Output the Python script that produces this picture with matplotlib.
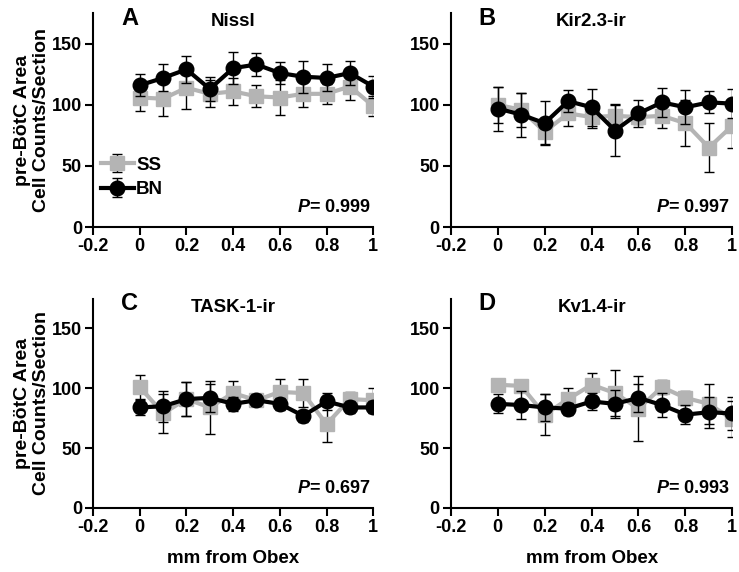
import matplotlib
matplotlib.use("Agg")
import matplotlib.pyplot as plt

plt.rcParams['font.family'] = ['Liberation Sans', 'DejaVu Sans']
plt.rcParams['font.weight'] = 'bold'
plt.rcParams['mathtext.fontset'] = 'custom'
plt.rcParams['mathtext.it'] = 'Liberation Sans:italic:bold'
plt.rcParams['mathtext.rm'] = 'Liberation Sans:bold'

x_mm = [0, 0.1, 0.2, 0.3, 0.4, 0.5, 0.6, 0.7, 0.8, 0.9, 1.0]
x_ticks = [-0.2, 0, 0.2, 0.4, 0.6, 0.8, 1]
x_tick_labels = ['-0.2', '0', '0.2', '0.4', '0.6', '0.8', '1']
y_ticks = [0, 50, 100, 150]

titles = ['Nissl', 'Kir2.3-ir', 'TASK-1-ir', 'Kv1.4-ir']
letters = ['A', 'B', 'C', 'D']
p_values = ['0.999', '0.997', '0.697', '0.993']

# Nissl
ss_a = [106, 105, 114, 109, 111, 107, 106, 109, 109, 115, 99]
ss_a_err = [11, 14, 17, 11, 11, 9, 14, 11, 8, 11, 8]
bn_a = [116, 122, 129, 113, 130, 133, 126, 123, 122, 126, 115]
bn_a_err = [9, 11, 11, 10, 13, 9, 9, 13, 11, 10, 9]

# Kir2.3
ss_b = [100, 96, 78, 93, 90, 91, 90, 91, 85, 65, 83]
ss_b_err = [15, 14, 10, 10, 9, 10, 6, 10, 19, 20, 18]
bn_b = [97, 92, 85, 103, 98, 79, 93, 102, 98, 102, 101]
bn_b_err = [18, 18, 18, 9, 15, 21, 11, 12, 14, 9, 12]

# TASK-1
ss_c = [101, 79, 91, 84, 96, 90, 97, 96, 70, 91, 90]
ss_c_err = [10, 16, 14, 22, 10, 5, 11, 12, 15, 6, 10]
bn_c = [84, 85, 91, 92, 87, 90, 87, 77, 89, 84, 84]
bn_c_err = [6, 13, 14, 12, 6, 5, 5, 5, 7, 5, 5]

# Kv1.4
ss_d = [103, 102, 78, 91, 103, 96, 83, 101, 92, 87, 74]
ss_d_err = [5, 5, 17, 9, 10, 19, 27, 6, 6, 17, 15]
bn_d = [87, 86, 84, 83, 89, 87, 92, 86, 78, 80, 79]
bn_d_err = [8, 12, 11, 5, 7, 12, 12, 10, 8, 13, 14]

ss_all = [ss_a, ss_b, ss_c, ss_d]
ss_err_all = [ss_a_err, ss_b_err, ss_c_err, ss_d_err]
bn_all = [bn_a, bn_b, bn_c, bn_d]
bn_err_all = [bn_a_err, bn_b_err, bn_c_err, bn_d_err]

gray = '#b4b4b4'

fig = plt.figure(figsize=(7.39, 5.72), dpi=100)
boxes = [
    [0.126, 0.603, 0.379, 0.374],
    [0.610, 0.603, 0.381, 0.374],
    [0.126, 0.112, 0.379, 0.366],
    [0.610, 0.112, 0.381, 0.366],
]

for i in range(4):
    ax = fig.add_axes(boxes[i])
    ax.errorbar(x_mm, ss_all[i], yerr=ss_err_all[i], color=gray, ecolor='black',
                elinewidth=1, capsize=3.5, capthick=1, lw=3, marker='s', ms=10,
                label='SS', zorder=2)
    ax.errorbar(x_mm, bn_all[i], yerr=bn_err_all[i], color='black', ecolor='black',
                elinewidth=1, capsize=3.5, capthick=1, lw=3, marker='o', ms=10.5,
                label='BN', zorder=3)
    ax.set_xlim(-0.2, 1.0)
    ax.set_ylim(0, 175)
    ax.set_xticks(x_ticks)
    ax.set_xticklabels(x_tick_labels)
    ax.set_yticks(y_ticks)
    for s in ['top', 'right']:
        ax.spines[s].set_visible(False)
    for s in ['left', 'bottom']:
        ax.spines[s].set_linewidth(1.5)
    ax.tick_params(direction='out', length=6, width=1.5, labelsize=13, pad=2)
    for lab in ax.get_xticklabels() + ax.get_yticklabels():
        lab.set_fontweight('bold')
    ax.text(0.13, 1.03, letters[i], transform=ax.transAxes, fontsize=17,
            fontweight='bold', va='top', ha='center')
    ax.text(0.5, 1.0, titles[i], transform=ax.transAxes, fontsize=13.5,
            fontweight='bold', va='top', ha='center')
    ax.text(0.99, 0.05, '$P$= ' + p_values[i], transform=ax.transAxes,
            fontsize=13, fontweight='bold', ha='right', va='bottom')
    if i % 2 == 0:
        ax.set_ylabel('pre-BötC Area\nCell Counts/Section', fontsize=14,
                      fontweight='bold', labelpad=1)
    if i >= 2:
        ax.set_xlabel('mm from Obex', fontsize=13.5, fontweight='bold', labelpad=10)
    if i == 0:
        ax.legend(loc='lower left', bbox_to_anchor=(0.0, 0.1), frameon=False,
                  fontsize=13.5, handlelength=1.8, handletextpad=0.1,
                  labelspacing=0.4, borderaxespad=0)

fig.savefig('out.png', dpi=100)
